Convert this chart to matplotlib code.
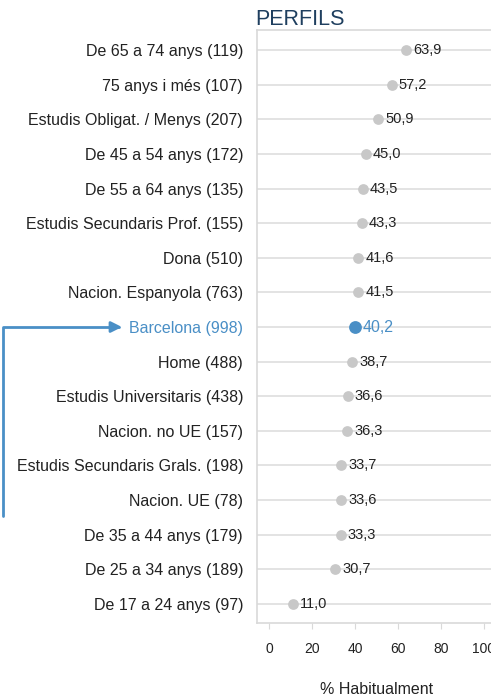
import matplotlib
matplotlib.use('Agg')
from matplotlib import pyplot as plt

plt.rcParams['font.family'] = ['Liberation Sans', 'DejaVu Sans']

perfils = ['De 65 a 74 anys (119)', '75 anys i més (107)', 'Estudis Obligat. / Menys (207)',
           'De 45 a 54 anys (172)', 'De 55 a 64 anys (135)', 'Estudis Secundaris Prof. (155)',
           'Dona (510)', 'Nacion. Espanyola (763)', 'Barcelona (998)', 'Home (488)',
           'Estudis Universitaris (438)', 'Nacion. no UE (157)', 'Estudis Secundaris Grals. (198)',
           'Nacion. UE (78)', 'De 35 a 44 anys (179)', 'De 25 a 34 anys (189)', 'De 17 a 24 anys (97)']
habitualment = [63.9, 57.2, 50.9, 45.0, 43.5, 43.3, 41.6, 41.5, 40.2, 38.7,
                36.6, 36.3, 33.7, 33.6, 33.3, 30.7, 11.0]
destacat = 'Barcelona (998)'
x_ticks = [0, 20, 40, 60, 80, 100]

blau = '#4a8fc6'
gris = '#c8c8c8'
text_color = '#222222'

W, H = 491, 697
fig = plt.figure(figsize=(W / 100, H / 100), dpi=100)
ax = fig.add_axes([257 / W, 1 - 623 / H, (494.75 - 257) / W, (623 - 30) / H])

y = list(range(len(perfils)))
for yi, nom, val in zip(y, perfils, habitualment):
    ax.axhline(yi, color='#e3e3e3', linewidth=1.4, zorder=0)
    if nom == destacat:
        ax.scatter(val, yi, s=85, color=blau, zorder=3, linewidths=0)
        ax.annotate(f'{val:.1f}'.replace('.', ','), (val, yi), xytext=(5, 0),
                    textcoords='offset points', va='center', ha='left',
                    fontsize=11.5, color=blau)
    else:
        ax.scatter(val, yi, s=60, color=gris, zorder=3, linewidths=0)
        ax.annotate(f'{val:.1f}'.replace('.', ','), (val, yi), xytext=(5, 0),
                    textcoords='offset points', va='center', ha='left',
                    fontsize=10.5, color=text_color)

ax.set_xlim(-5.6, 105)
ax.set_ylim(len(perfils) - 0.45, -0.58)
ax.set_yticks(y)
ax.set_yticklabels(perfils, fontsize=11.5, color=text_color)
for lbl in ax.get_yticklabels():
    if lbl.get_text() == destacat:
        lbl.set_color(blau)
ax.tick_params(axis='y', length=0, pad=10)
ax.set_xticks(x_ticks)
ax.tick_params(axis='x', length=4, color='#d9d9d9', labelsize=10, labelcolor=text_color, pad=10)

for side in ['left', 'top', 'bottom']:
    ax.spines[side].set_color('#d9d9d9')
    ax.spines[side].set_linewidth(1.2)
ax.spines['right'].set_visible(False)

fig.text(255 / W, 1 - 25 / H, 'PERFILS', fontsize=15.5, color='#1f3f5f', va='baseline', ha='left')
fig.text(377 / W, 1 - 690 / H, '% Habitualment', fontsize=11.5, color=text_color,
         ha='center', va='center')

# arrow pointing at the highlighted row
fila = perfils.index(destacat)
ax.annotate('', xy=(122 / W, fila), xycoords=('figure fraction', 'data'),
            xytext=(3 / W, 1 - 516 / H), textcoords='figure fraction',
            arrowprops=dict(arrowstyle='-|>', color=blau, lw=2, mutation_scale=16,
                            shrinkA=0, shrinkB=0,
                            connectionstyle='angle,angleA=90,angleB=0,rad=0'),
            annotation_clip=False)

plt.savefig('out.png', dpi=100)
